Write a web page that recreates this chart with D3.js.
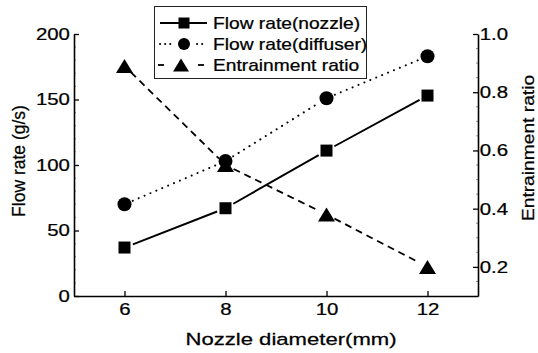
<!DOCTYPE html>
<html>
<head>
<meta charset="utf-8">
<script src="https://cdn.jsdelivr.net/npm/d3@7"></script>
<style>
  html, body { margin: 0; padding: 0; background: #fff; }
  svg { display: block; font-family: "Liberation Sans", Arial, Helvetica, sans-serif; }
  svg text { stroke: #000; stroke-width: 0.25px; }
</style>
</head>
<body>
<svg id="chart" width="538" height="353"></svg>
<script>
// Nozzle diameter (mm)
const diameters = [6, 8, 10, 12];
// Flow rate through the nozzle (g/s)
const flowNozzle = [37, 67, 111, 153];
// Flow rate through the diffuser (g/s)
const flowDiffuser = [70, 103, 151, 183];
// Entrainment ratio (-)
const entrainment = [0.89, 0.55, 0.38, 0.20];

const xTicks = [6, 8, 10, 12];
const yLeftTicks = [0, 50, 100, 150, 200];
const yRightTicks = [0.2, 0.4, 0.6, 0.8, 1.0];

const seriesNames = ["Flow rate(nozzle)", "Flow rate(diffuser)", "Entrainment ratio"];

const svg = d3.select("#chart");
const plotLeft = 74, plotRight = 478, plotTop = 34, plotBottom = 296;

const x = d3.scaleLinear().domain([5, 13]).range([plotLeft, plotRight]);
const yL = d3.scaleLinear().domain([0, 200]).range([plotBottom, plotTop]);
const yR = d3.scaleLinear().domain([0.1, 1.0]).range([plotBottom, plotTop]);

const TICK_FONT = 17, TICK_SX = 1.2;

// ---- axes -------------------------------------------------------------
function styleAxis(g) {
  g.select(".domain").attr("stroke", "#000").attr("stroke-width", 1.6);
  g.selectAll(".tick line").attr("stroke", "#000").attr("stroke-width", 1.3);
  g.selectAll(".tick text")
    .attr("fill", "#000")
    .attr("font-size", TICK_FONT)
    .attr("font-family", "Liberation Sans, Arial, sans-serif");
}

// minor ticks (short, inward)
function minorTicks(values, pos, side) {
  const g = svg.append("g").attr("stroke", "#777").attr("stroke-width", 0.8);
  values.forEach(v => {
    const p = pos(v);
    if (side === "left") g.append("line").attr("x1", plotLeft).attr("x2", plotLeft + 2).attr("y1", p).attr("y2", p);
    else g.append("line").attr("x1", plotRight).attr("x2", plotRight - 2).attr("y1", p).attr("y2", p);
  });
}
minorTicks(d3.range(10, 200, 10).filter(v => v % 50 !== 0), yL, "left");
minorTicks(d3.range(0.15, 1.0, 0.05).map(v => +v.toFixed(2)).filter(v => Math.round(v * 100) % 20 !== 0), yR, "right");

const gx = svg.append("g")
  .attr("transform", `translate(0,${plotBottom})`)
  .call(d3.axisBottom(x).tickValues(xTicks).tickSizeInner(-5).tickSizeOuter(0).tickPadding(7)
        .tickFormat(d3.format("d")));
styleAxis(gx);
gx.selectAll(".tick text").attr("transform", `scale(${TICK_SX},1)`);

const gyl = svg.append("g")
  .attr("transform", `translate(${plotLeft},0)`)
  .call(d3.axisLeft(yL).tickValues(yLeftTicks).tickSizeInner(-5).tickSizeOuter(0).tickPadding(3.4)
        .tickFormat(d3.format("d")));
styleAxis(gyl);
gyl.selectAll(".tick text").attr("transform", `scale(${TICK_SX},1)`);

const gyr = svg.append("g")
  .attr("transform", `translate(${plotRight},0)`)
  .call(d3.axisRight(yR).tickValues(yRightTicks).tickSizeInner(-5).tickSizeOuter(0).tickPadding(1.4)
        .tickFormat(d3.format(".1f")));
styleAxis(gyr);
gyr.selectAll(".tick text").attr("transform", `scale(${TICK_SX},1)`);

// ---- axis titles --------------------------------------------------------
svg.append("text")
  .attr("transform", "translate(291,345) scale(1.3,1)")
  .attr("text-anchor", "middle")
  .attr("font-size", 17)
  .text("Nozzle diameter(mm)");

svg.append("text")
  .attr("transform", "translate(25,161) rotate(-90)")
  .attr("text-anchor", "middle")
  .attr("font-size", 17.5)
  .text("Flow rate (g/s)");

svg.append("text")
  .attr("transform", "translate(534,148) rotate(-90) scale(1.13,1)")
  .attr("text-anchor", "middle")
  .attr("font-size", 17)
  .text("Entrainment ratio");

// ---- markers -------------------------------------------------------------
const symSquare = d3.symbol().type(d3.symbolSquare).size(12 * 12);
const symCircle = d3.symbol().type(d3.symbolCircle).size(Math.PI * 7 * 7);
// triangle with bounding box centred on the point
function trianglePath(w, h) {
  return `M0,${-h / 2}L${w / 2},${h / 2}L${-w / 2},${h / 2}Z`;
}

// ---- series ---------------------------------------------------------------
const series = [
  { name: seriesNames[0], values: flowNozzle, y: yL, dash: null, width: 1.9, cap: "butt", marker: "square" },
  { name: seriesNames[1], values: flowDiffuser, y: yL, dash: "0.1,6.3", width: 2, cap: "round", marker: "circle" },
  { name: seriesNames[2], values: entrainment, y: yR, dash: "7,5", width: 1.8, cap: "butt", marker: "triangle" }
];

function drawMarker(g, type, cx, cy) {
  if (type === "square") g.append("path").attr("d", symSquare()).attr("transform", `translate(${cx},${cy})`);
  else if (type === "circle") g.append("path").attr("d", symCircle()).attr("transform", `translate(${cx},${cy})`);
  else g.append("path").attr("d", trianglePath(17, 14)).attr("transform", `translate(${cx},${cy})`);
}

const GAP = 9; // line segments stop short of the symbols
series.forEach(s => {
  const pts = diameters.map((d, i) => [x(d), s.y(s.values[i])]);
  const lg = svg.append("g")
    .attr("fill", "none").attr("stroke", "#000")
    .attr("stroke-width", s.width).attr("stroke-linecap", s.cap);
  if (s.dash) lg.attr("stroke-dasharray", s.dash);
  for (let i = 0; i < pts.length - 1; i++) {
    const [x1, y1] = pts[i], [x2, y2] = pts[i + 1];
    const len = Math.hypot(x2 - x1, y2 - y1);
    const ux = (x2 - x1) / len, uy = (y2 - y1) / len;
    lg.append("line")
      .attr("x1", x1 + ux * GAP).attr("y1", y1 + uy * GAP)
      .attr("x2", x2 - ux * GAP).attr("y2", y2 - uy * GAP);
  }
  const mg = svg.append("g").attr("fill", "#000");
  pts.forEach(p => drawMarker(mg, s.marker, p[0], p[1]));
});

// ---- legend -----------------------------------------------------------------
const legend = svg.append("g");
legend.append("rect")
  .attr("x", 154.5).attr("y", 6.5).attr("width", 212).attr("height", 72)
  .attr("fill", "#fff").attr("stroke", "#222").attr("stroke-width", 1);

const rowY = [23, 44, 65];
series.forEach((s, i) => {
  const cy = rowY[i];
  const g = legend.append("g");
  const lg = g.append("g").attr("stroke", "#000").attr("stroke-width", s.width)
    .attr("stroke-linecap", s.cap).attr("fill", "none");
  if (s.marker === "square") {
    lg.append("line").attr("x1", 160).attr("x2", 207).attr("y1", cy).attr("y2", cy);
  } else if (s.marker === "circle") {
    lg.attr("stroke-dasharray", "0.1,5");
    lg.append("line").attr("x1", 160).attr("x2", 173).attr("y1", cy).attr("y2", cy);
    lg.append("line").attr("x1", 197).attr("x2", 207).attr("y1", cy).attr("y2", cy);
  } else {
    lg.append("line").attr("x1", 158).attr("x2", 164).attr("y1", cy).attr("y2", cy);
    lg.append("line").attr("x1", 198).attr("x2", 204).attr("y1", cy).attr("y2", cy);
  }
  const mg = g.append("g").attr("fill", "#000");
  if (s.marker === "square") mg.append("path").attr("d", d3.symbol().type(d3.symbolSquare).size(121)()).attr("transform", `translate(184,${cy})`);
  else if (s.marker === "circle") mg.append("path").attr("d", d3.symbol().type(d3.symbolCircle).size(Math.PI * 36)()).attr("transform", `translate(184,${cy})`);
  else mg.append("path").attr("d", trianglePath(16, 13)).attr("transform", `translate(181,${cy})`);

  g.append("text")
    .attr("transform", `translate(213,${cy + 5.5}) scale(1.2,1)`)
    .attr("font-size", 16)
    .text(s.name);
});
</script>
</body>
</html>
